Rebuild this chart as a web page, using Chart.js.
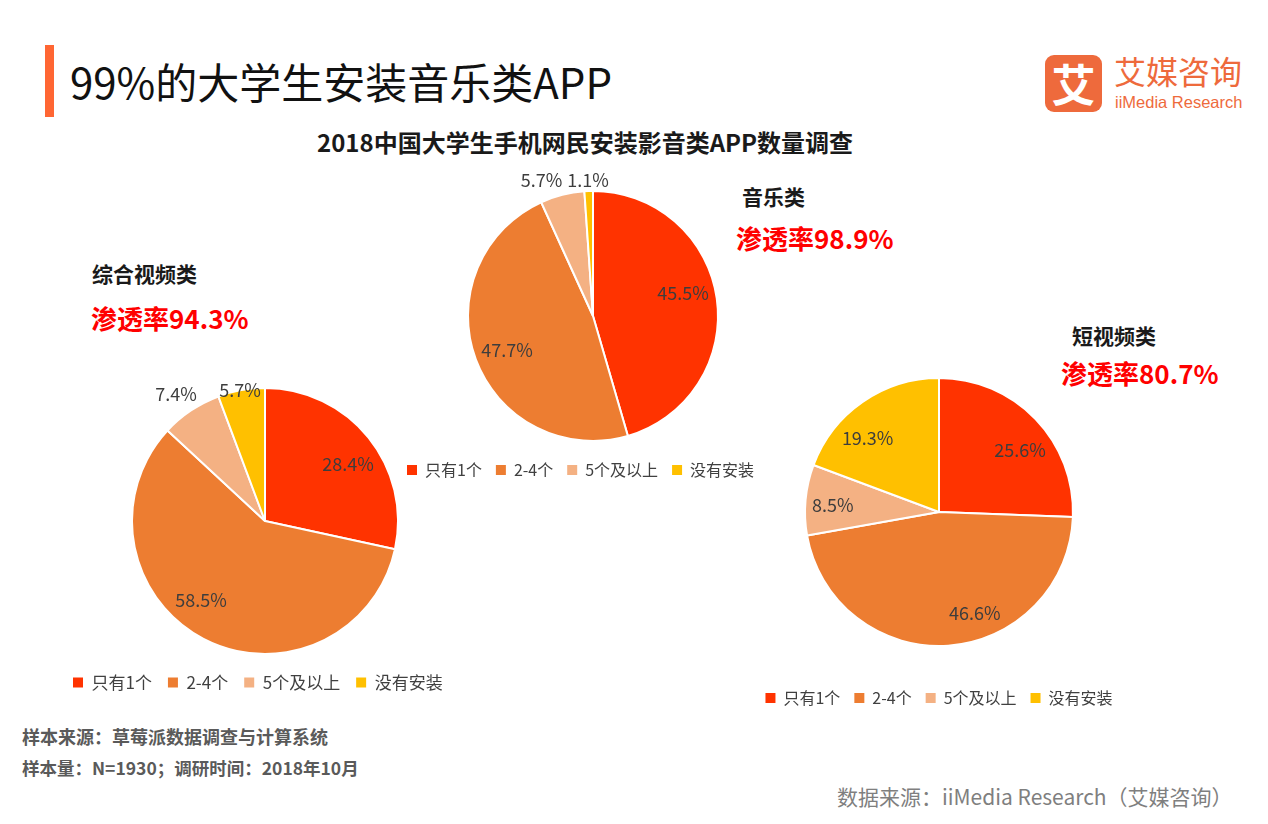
<!DOCTYPE html>
<html><head><meta charset="utf-8">
<script src="https://cdn.jsdelivr.net/npm/chart.js@4.4.1/dist/chart.umd.min.js"></script>
<style>
html,body{margin:0;padding:0;background:#fff;}
body{width:1268px;height:824px;position:relative;overflow:hidden;font-family:"Noto Sans CJK SC","Noto Sans",sans-serif;}
canvas{position:absolute;left:0;top:0;}
.t{position:absolute;white-space:nowrap;line-height:1;}
.cat{font-size:21px;font-weight:bold;color:#1a1a1a;}
.pen{font-size:26px;font-weight:bold;color:#ff0000;}
</style></head><body>
<div style="position:absolute;left:45px;top:45px;width:9px;height:72px;background:#FF6633;"></div>
<div class="t" style="left:70px;top:60px;font-size:42px;color:#111;">99%的大学生安装音乐类APP</div>
<div style="position:absolute;left:1045px;top:55px;width:57px;height:57px;border-radius:9px;background:#EE6A3C;color:#fff;font-size:44px;font-weight:bold;line-height:57px;text-align:center;">艾</div>
<div class="t" style="left:1114px;top:54px;font-size:32px;color:#EE6A3C;">艾媒咨询</div>
<div class="t" style="left:1115px;top:94px;font-size:16.5px;color:#EE6A3C;font-family:'Liberation Sans',Arial,sans-serif;">iiMedia Research</div>
<div class="t" style="left:317px;top:130px;font-size:24px;font-weight:bold;color:#1a1a1a;">2018中国大学生手机网民安装影音类APP数量调查</div>
<div class="t cat" style="left:92px;top:263px;">综合视频类</div>
<div class="t pen" style="left:91px;top:305px;">渗透率94.3%</div>
<div class="t cat" style="left:742px;top:186px;">音乐类</div>
<div class="t pen" style="left:736px;top:225px;">渗透率98.9%</div>
<div class="t cat" style="left:1072px;top:325px;">短视频类</div>
<div class="t pen" style="left:1061px;top:360px;">渗透率80.7%</div>
<div class="t" style="left:22px;top:727px;font-size:18px;font-weight:bold;color:#5a5a5a;">样本来源：草莓派数据调查与计算系统</div>
<div class="t" style="left:22px;top:759px;font-size:17.5px;font-weight:bold;color:#5a5a5a;">样本量：N=1930；调研时间：2018年10月</div>
<div class="t" style="left:837px;top:786px;font-size:21px;color:#7f7f7f;">数据来源：iiMedia Research（艾媒咨询）</div>
<canvas id="c1" width="1268" height="824"></canvas>
<canvas id="c2" width="1268" height="824"></canvas>
<canvas id="c3" width="1268" height="824"></canvas>
<script>
const legendLabels = ['只有1个', '2-4个', '5个及以上', '没有安装'];
const sliceColors = ['#FF3300', '#ED7D31', '#F4B183', '#FFC000'];
const videoValues = [28.4, 58.5, 7.4, 5.7];
const musicValues = [45.5, 47.7, 5.7, 1.1];
const shortValues = [25.6, 46.6, 8.5, 19.3];

const FONT = '"Noto Sans CJK SC", "Noto Sans", sans-serif';

function labelPlugin(placement) {
  return {
    id: 'sliceLabels',
    afterDatasetsDraw(chart) {
      const ctx = chart.ctx;
      const meta = chart.getDatasetMeta(0);
      const vals = chart.data.datasets[0].data;
      ctx.save();
      ctx.font = '18px ' + FONT;
      ctx.fillStyle = '#3d3d3d';
      ctx.textAlign = 'center';
      ctx.textBaseline = 'middle';
      meta.data.forEach((arc, i) => {
        const p = arc.getProps(['x', 'y', 'startAngle', 'endAngle', 'outerRadius'], true);
        const r = p.outerRadius - 1;
        const pl = placement[i];
        const a = (p.startAngle + p.endAngle) / 2 + pl.da * Math.PI / 180;
        const x = p.x + Math.cos(a) * r * pl.f;
        const y = p.y + Math.sin(a) * r * pl.f;
        ctx.fillText(vals[i].toFixed(1) + '%', x, y);
      });
      ctx.restore();
    }
  };
}

function genLabels(chart) {
  const base = (Chart.overrides.doughnut && Chart.overrides.doughnut.plugins.legend.labels.generateLabels)
    || Chart.overrides.pie.plugins.legend.labels.generateLabels;
  return base(chart).map(l => Object.assign({}, l, {lineWidth: 0, strokeStyle: 'rgba(0,0,0,0)'}));
}

function makePie(id, values, cfg) {
  return new Chart(document.getElementById(id), {
    type: 'pie',
    data: {
      labels: legendLabels,
      datasets: [{
        data: values,
        backgroundColor: sliceColors,
        borderColor: '#ffffff',
        borderWidth: 2,
        radius: cfg.radius
      }]
    },
    options: {
      responsive: false,
      animation: false,
      events: [],
      layout: {padding: {left: cfg.L, right: 1268 - cfg.R, top: cfg.T, bottom: 824 - cfg.B}},
      plugins: {
        tooltip: {enabled: false},
        legend: {
          position: 'bottom',
          align: cfg.align,
          labels: {
            boxWidth: 10,
            boxHeight: 10,
            padding: cfg.pad,
            color: '#404040',
            font: {family: FONT, size: cfg.fs},
            generateLabels: genLabels
          }
        }
      }
    },
    plugins: [labelPlugin(cfg.placement)]
  });
}

makePie('c1', videoValues, {
  L: 57, R: 473, T: 384, B: 701, radius: 133, fs: 17, pad: 16, align: 'start',
  placement: [{f: 0.763, da: 4.4}, {f: 0.77, da: 11.5}, {f: 1.175, da: -1.2}, {f: 1.01, da: -0.5}]
});
makePie('c2', musicValues, {
  L: 393, R: 793, T: 184, B: 488, radius: 125, fs: 16, pad: 14, align: 'start',
  placement: [{f: 0.749, da: -6.2}, {f: 0.746, da: -1.3}, {f: 1.172, da: -6.5}, {f: 1.098, da: -0.1}]
});
makePie('c3', shortValues, {
  L: 739, R: 1139, T: 348, B: 716, radius: 134, fs: 16, pad: 14, align: 'center',
  placement: [{f: 0.767, da: 6.5}, {f: 0.806, da: -15.6}, {f: 0.80, da: -1.4}, {f: 0.773, da: -9.2}]
});
</script>
</body></html>
